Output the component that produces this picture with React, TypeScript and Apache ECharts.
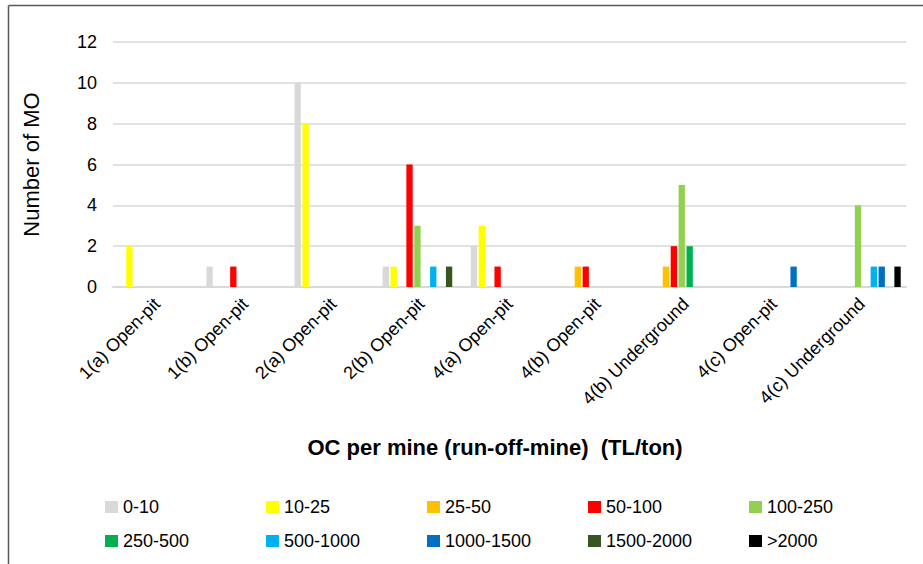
import React, { useEffect, useRef } from "react";
import * as echarts from "echarts";

const categories = [
  "1(a) Open-pit",
  "1(b) Open-pit",
  "2(a) Open-pit",
  "2(b) Open-pit",
  "4(a) Open-pit",
  "4(b) Open-pit",
  "4(b) Underground",
  "4(c) Open-pit",
  "4(c) Underground",
];

const binNames = [
  "0-10",
  "10-25",
  "25-50",
  "50-100",
  "100-250",
  "250-500",
  "500-1000",
  "1000-1500",
  "1500-2000",
  ">2000",
];

const binColors = [
  "#d9d9d9",
  "#ffff00",
  "#ffc000",
  "#ff0000",
  "#92d050",
  "#00b050",
  "#00b0f0",
  "#0070c0",
  "#375623",
  "#000000",
];

const bin0_10 = [0, 1, 10, 1, 2, 0, 0, 0, 0];
const bin10_25 = [2, 0, 8, 1, 3, 0, 0, 0, 0];
const bin25_50 = [0, 0, 0, 0, 0, 1, 1, 0, 0];
const bin50_100 = [0, 1, 0, 6, 1, 1, 2, 0, 0];
const bin100_250 = [0, 0, 0, 3, 0, 0, 5, 0, 4];
const bin250_500 = [0, 0, 0, 0, 0, 0, 2, 0, 0];
const bin500_1000 = [0, 0, 0, 1, 0, 0, 0, 0, 1];
const bin1000_1500 = [0, 0, 0, 0, 0, 0, 0, 1, 1];
const bin1500_2000 = [0, 0, 0, 1, 0, 0, 0, 0, 0];
const binOver2000 = [0, 0, 0, 0, 0, 0, 0, 0, 1];

const binValues = [
  bin0_10,
  bin10_25,
  bin25_50,
  bin50_100,
  bin100_250,
  bin250_500,
  bin500_1000,
  bin1000_1500,
  bin1500_2000,
  binOver2000,
];

const yTicks = [0, 2, 4, 6, 8, 10, 12];

const FONT = "'Liberation Sans', Arial, sans-serif";

export default function App() {
  const ref = useRef<HTMLDivElement>(null);

  useEffect(() => {
    if (!ref.current) return;
    const chart = echarts.init(ref.current, undefined, { renderer: "svg" });

    const legendLefts = [105, 266, 427, 588, 749];
    const legendTops = [498, 532];

    const legends = binNames.map((name, i) => ({
      data: [name],
      left: legendLefts[i % 5],
      top: legendTops[Math.floor(i / 5)],
      padding: 0,
      itemWidth: 13,
      itemHeight: 12,
      itemGap: 0,
      icon: "rect",
      selectedMode: false,
      textStyle: { fontFamily: FONT, fontSize: 18, color: "#000" },
    }));

    chart.setOption({
      animation: false,
      backgroundColor: "#fff",
      textStyle: { fontFamily: FONT },
      grid: { left: 113, right: 17, top: 42, bottom: 277, containLabel: false },
      legend: legends,
      graphic: [
        {
          type: "line",
          shape: { x1: 8.5, y1: 5.5, x2: 923, y2: 5.5 },
          style: { stroke: "#595959", lineWidth: 1.5 },
        },
        {
          type: "line",
          shape: { x1: 8.5, y1: 5.5, x2: 8.5, y2: 564 },
          style: { stroke: "#595959", lineWidth: 1.5 },
        },
        {
          type: "text",
          x: 495,
          y: 447,
          style: {
            text: "OC per mine (run-off-mine)  (TL/ton)",
            fontFamily: FONT,
            fontSize: 22,
            fontWeight: "bold",
            fill: "#000",
            align: "center",
            verticalAlign: "middle",
          },
        },
      ],
      xAxis: {
        type: "category",
        data: categories,
        axisLine: { lineStyle: { color: "#d9d9d9", width: 2 } },
        axisTick: { show: false },
        axisLabel: {
          rotate: 45,
          interval: 0,
          margin: 14,
          fontFamily: FONT,
          fontSize: 18,
          color: "#000",
        },
      },
      yAxis: {
        type: "value",
        min: yTicks[0],
        max: yTicks[yTicks.length - 1],
        interval: 2,
        name: "Number of MO",
        nameLocation: "middle",
        nameGap: 71,
        nameTextStyle: { fontFamily: FONT, fontSize: 22, color: "#000" },
        axisLine: { show: false },
        axisTick: { show: false },
        axisLabel: { fontFamily: FONT, fontSize: 18, color: "#000", margin: 16 },
        splitLine: { lineStyle: { color: "#d9d9d9", width: 1.5 } },
      },
      series: binNames.map((name, i) => ({
        name,
        type: "bar",
        data: binValues[i],
        itemStyle: { color: binColors[i] },
        barGap: "25%",
        barCategoryGap: "12%",
      })),
    });

    return () => chart.dispose();
  }, []);

  return (
    <div
      ref={ref}
      style={{ position: "absolute", left: 0, top: 0, width: 923, height: 564 }}
    />
  );
}
